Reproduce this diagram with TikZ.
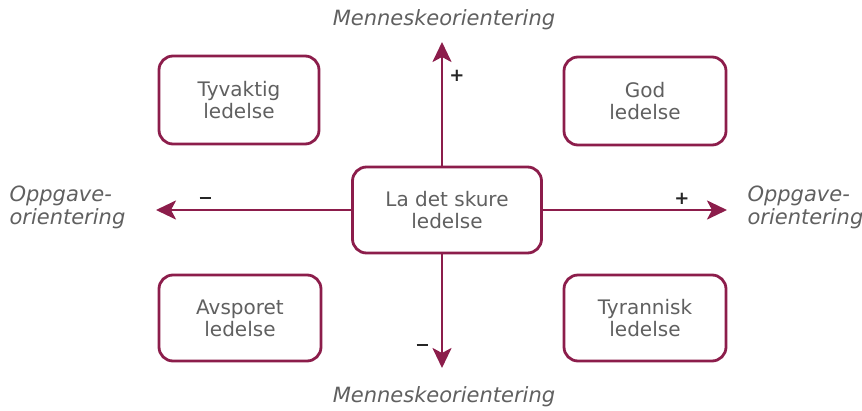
\documentclass[tikz,border=0pt]{standalone}
\usepackage{fontspec}
\setmainfont{DejaVu Sans}
\usetikzlibrary{arrows.meta}
\definecolor{plum}{HTML}{8C1D4B}
\definecolor{txtgray}{HTML}{606060}
\newcommand{\minussign}{\rule{11pt}{2.6pt}}
\tikzset{
  stylebox/.style={draw=plum, line width=2.8pt, rounded corners=14pt, fill=white,
    text=txtgray, align=center, font=\fontsize{20}{22}\selectfont},
  axis/.style={draw=plum, line width=2.8pt, -{Stealth[length=20pt,width=19pt,inset=5pt]}},
  axislabel/.style={text=txtgray, font=\fontsize{21}{23}\selectfont\itshape},
  sign/.style={font=\fontsize{18}{18}\selectfont\bfseries, text=black!85, inner sep=0pt}
}
\begin{document}
\begin{tikzpicture}[x=1pt,y=-1pt]
	  \useasboundingbox (0,0) rectangle (862,410);
	  \node[stylebox, minimum width=189pt, minimum height=86pt] (c) at (447,210) {La det skure\\ledelse};
	  \node[stylebox, minimum width=160pt, minimum height=88pt] (tl) at (239,100) {Tyvaktig\\ledelse};
	  \node[stylebox, minimum width=162pt, minimum height=88pt] (tr) at (645,101) {God\\ledelse};
	  \node[stylebox, minimum width=162pt, minimum height=86pt] (bl) at (240,318) {Avsporet\\ledelse};
	  \node[stylebox, minimum width=162pt, minimum height=86pt] (br) at (645,318) {Tyrannisk\\ledelse};
	  
	  \coordinate (up) at (442,42);
	  \coordinate (down) at (442,368);
	  \coordinate (left) at (156,210);
	  \coordinate (right) at (727,210);
	  
	  \draw[axis] (c.north -| up) -- (up);
	  \draw[axis] (c.south -| down) -- (down);
	  \draw[axis] (c.west) -- (left);
	  \draw[axis] (c.east) -- (right);
	  
	  \node[axislabel] (toplabel) at (444,20) {Menneskeorientering};
	  \node[axislabel] (bottomlabel) at (444,397) {Menneskeorientering};
	  \node[axislabel, anchor=west, align=left] (leftlabel) at (6,207) {Oppgave-\\orientering};
	  \node[axislabel, anchor=west, align=left] (rightlabel) at (744,207) {Oppgave-\\orientering};
	  
	  \node[sign] (uplus) at (457,76) {+};
	  \node[sign] (dminus) at (422,345) {\minussign};
	  \node[sign] (lminus) at (205,198) {\minussign};
	  \node[sign] (rplus) at (682,199) {+};
	\end{tikzpicture}
\end{document}
